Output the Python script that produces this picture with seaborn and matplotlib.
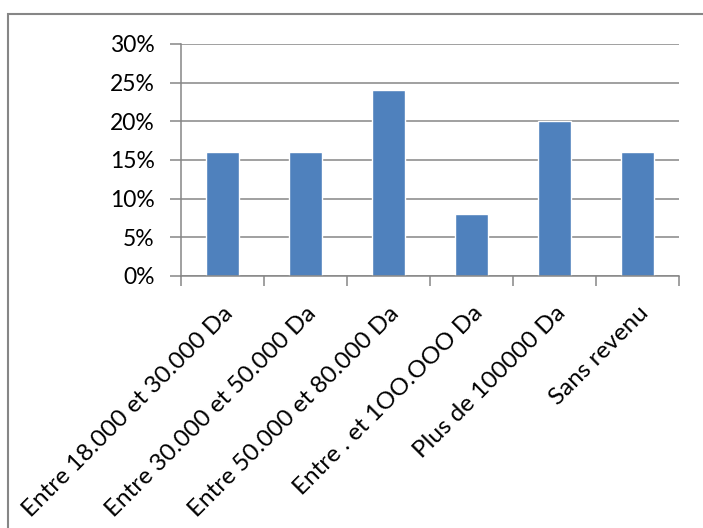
import matplotlib
matplotlib.use("Agg")
import matplotlib.pyplot as plt
import matplotlib.patches as mpatches
import seaborn as sns
import pandas as pd
from matplotlib.ticker import PercentFormatter, FixedLocator

categories = [
    "Entre 18.000 et 30.000 Da",
    "Entre 30.000 et 50.000 Da",
    "Entre 50.000 et 80.000 Da",
    "Entre . et 1OO.OOO Da",
    "Plus de 100000 Da",
    "Sans revenu",
]
shares = [16, 16, 24, 8, 20, 16]
y_ticks = [0, 5, 10, 15, 20, 25, 30]

df = pd.DataFrame({"categorie": categories, "part": shares})

sns.set_theme(style="white")
plt.rcParams["font.family"] = ["Lato", "DejaVu Sans"]

fig = plt.figure(figsize=(7.03, 5.28), dpi=100)
ax = fig.add_axes([181 / 703, 1 - 276 / 528, (679 - 181) / 703, (276 - 44) / 528])

grid_col = "#868686"
sns.barplot(data=df, x="categorie", y="part", color="#4F81BD", width=0.4,
            saturation=1, ax=ax, zorder=3)

ax.set_xlim(-0.5, len(categories) - 0.5)
ax.set_ylim(0, 30)
ax.set_yticks(y_ticks)
ax.yaxis.set_major_formatter(PercentFormatter(decimals=0))
ax.yaxis.grid(True, color=grid_col, linewidth=1.1, zorder=0)
ax.set_axisbelow(True)
ax.set_xlabel("")
ax.set_ylabel("")

for side in ["top", "right"]:
    ax.spines[side].set_visible(False)
for side in ["left", "bottom"]:
    ax.spines[side].set_color(grid_col)
    ax.spines[side].set_linewidth(1.1)
    ax.spines[side].set_zorder(4)

# ticks between categories on the x axis, labels centred under bars
ax.xaxis.set_major_locator(FixedLocator([i - 0.5 for i in range(len(categories) + 1)]))
ax.xaxis.set_minor_locator(FixedLocator(list(range(len(categories)))))
ax.set_xticklabels([""] * (len(categories) + 1))
ax.set_xticklabels(categories, minor=True, rotation=45, ha="right",
                   rotation_mode="anchor", fontsize=17.5, color="black")
ax.tick_params(axis="x", which="major", bottom=True, length=7, width=1.1,
               color=grid_col, direction="out")
ax.tick_params(axis="x", which="minor", bottom=True, length=0, pad=19)
ax.tick_params(axis="y", which="major", left=True, length=8, width=1.1,
               color=grid_col, direction="out", labelsize=16.5,
               labelcolor="black", pad=11)
for lab in ax.get_xticklabels(minor=True):
    lab.set_x(lab.get_position()[0] + 0.06)

# chart frame
frame = mpatches.Rectangle((8 / 703, -0.1), 1.2, 1 - 14 / 528 + 0.1,
                           transform=fig.transFigure, fill=False,
                           edgecolor=grid_col, linewidth=1.5)
fig.patches.append(frame)

fig.savefig("out.png", dpi=100)
